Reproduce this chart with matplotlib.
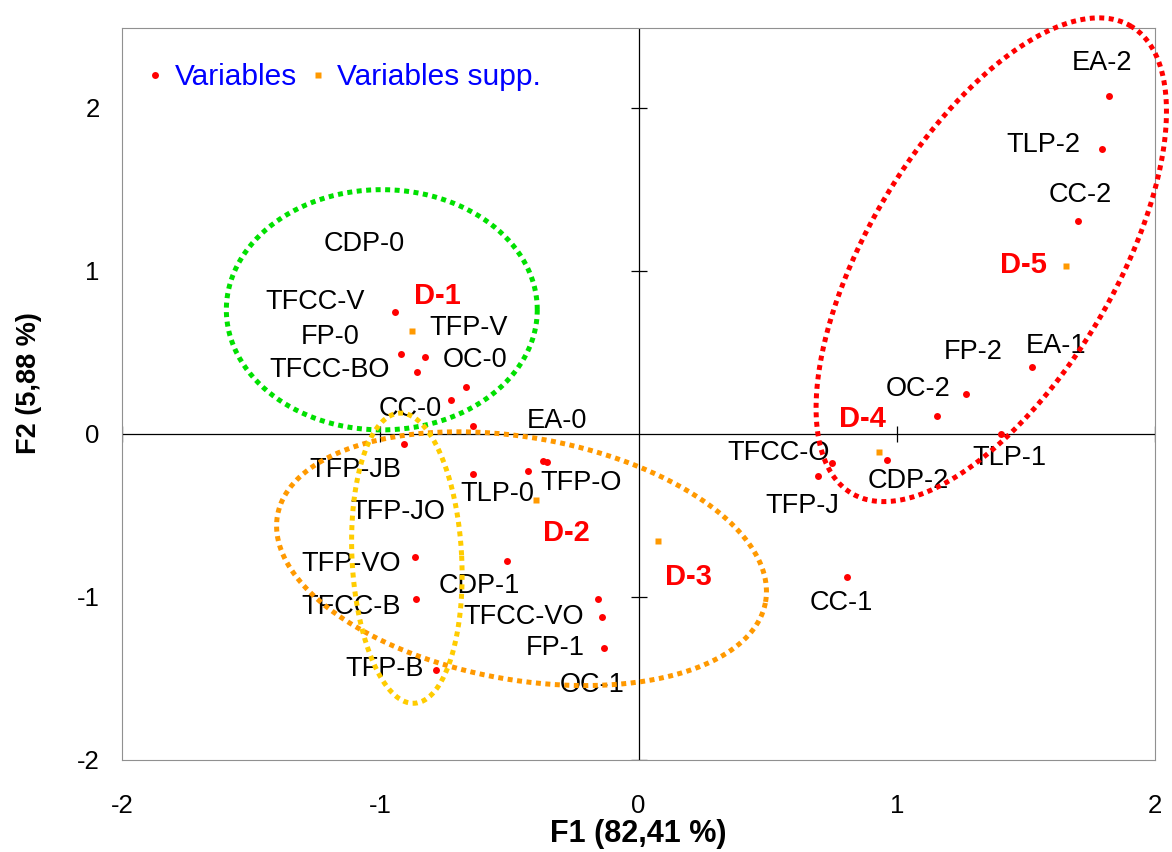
import numpy as np
import matplotlib
matplotlib.use('Agg')
from matplotlib import pyplot as plt
from matplotlib.lines import Line2D

plt.rcParams['font.family'] = ['Liberation Sans', 'DejaVu Sans']
plt.rcParams['axes.unicode_minus'] = False

# active variables (red dots) and where their labels sit
var_names = ['TFCC-V', 'FP-0', 'TFP-V', 'TFCC-BO', 'OC-0', 'CC-0', 'EA-0',
             'TFP-JB', 'TFP-JO', 'TLP-0', 'TFP-O', 'CDP-0', 'TFP-VO', 'CDP-1',
             'TFCC-B', 'TFCC-VO', 'OC-1', 'FP-1', 'TFP-B',
             'TFCC-O', 'TFP-J', 'CDP-2', 'OC-2', 'FP-2', 'EA-1', 'TLP-1',
             'CC-1', 'EA-2', 'TLP-2', 'CC-2']
var_x = [-0.944, -0.921, -0.828, -0.859, -0.669, -0.727, -0.642,
         -0.909, -0.642, -0.429, -0.371, -0.356, -0.867, -0.511,
         -0.863, -0.155, -0.143, -0.135, -0.785,
         0.750, 0.696, 0.963, 1.157, 1.269, 1.524, 1.404,
         0.809, 1.822, 1.795, 1.702]
var_y = [0.750, 0.492, 0.473, 0.381, 0.289, 0.209, 0.049,
         -0.061, -0.246, -0.227, -0.166, -0.172, -0.756, -0.780,
         -1.014, -1.014, -1.124, -1.315, -1.450,
         -0.178, -0.258, -0.160, 0.111, 0.246, 0.412, 0.0,
         -0.879, 2.071, 1.751, 1.309]
lab_x = [-1.253, -1.195, -0.658, -1.195, -0.634, -0.886, -0.317,
         -1.095, -0.932, -0.545, -0.224, -1.064, -1.114, -0.615,
         -1.114, -0.445, -0.178, -0.321, -0.983,
         0.542, 0.634, 1.044, 1.083, 1.296, 1.617, 1.435,
         0.785, 1.795, 1.567, 1.710]
lab_y = [0.811, 0.596, 0.651, 0.393, 0.455, 0.154, 0.080,
         -0.221, -0.479, -0.369, -0.301, 1.167, -0.799, -0.934,
         -1.063, -1.124, -1.542, -1.315, -1.444,
         -0.117, -0.442, -0.289, 0.276, 0.504, 0.541, -0.147,
         -1.038, 2.273, 1.770, 1.469]

# supplementary variables (orange squares)
sup_names = ['D-1', 'D-2', 'D-3', 'D-4', 'D-5']
sup_x = [-0.878, -0.395, 0.074, 0.932, 1.656]
sup_y = [0.633, -0.406, -0.657, -0.111, 1.032]
sup_lab_x = [-0.778, -0.279, 0.193, 0.867, 1.489]
sup_lab_y = [0.848, -0.608, -0.879, 0.092, 1.038]

# grouping ellipses: centre and two conjugate semi-diameters (data units)
ell_colors = ['#00e000', '#ff9900', '#ffcc00', '#ff0000']
ell_cx = [-0.994, -0.453, -0.897, 1.366]
ell_cy = [0.762, -0.765, -0.762, 1.069]
ell_u = [(0.602, 0.0), (0.945, -0.265), (0.212, 0.018), (0.542, 1.432)]
ell_v = [(0.0, 0.737), (0.0814, 0.732), (-0.029, 0.890), (-0.408, 0.389)]

fig = plt.figure(figsize=(11.72, 8.52), dpi=100)
ax = fig.add_axes([0.1041, 0.108, 0.8814, 0.859])
ax.set_xlim(-2, 2)
ax.set_ylim(-2, 2.49)

ax.axhline(0, color='black', lw=0.9, zorder=1)
ax.axvline(0, color='black', lw=0.9, zorder=1)
ticks = [-2, -1, 1, 2]
ax.plot(ticks, [0] * 4, ls='none', marker='|', ms=12, mew=0.9, color='black', zorder=1)
ax.plot([0] * 4, ticks, ls='none', marker='_', ms=12, mew=0.9, color='black', zorder=1)

ax.plot(var_x, var_y, ls='none', marker='o', ms=5, color='#ff0000', mec='none', zorder=3)
ax.plot(sup_x, sup_y, ls='none', marker='s', ms=5, color='#ff9900', mec='none', zorder=3)

for name, lx, ly in zip(var_names, lab_x, lab_y):
    ax.text(lx, ly, name, fontsize=19.5, ha='center', va='center', zorder=2)
for name, lx, ly in zip(sup_names, sup_lab_x, sup_lab_y):
    ax.text(lx, ly, name, fontsize=21, fontweight='bold', color='#ff0000',
            ha='center', va='center', zorder=2)

t = np.linspace(0, 2 * np.pi, 400)
for c, cx, cy, u, v in zip(ell_colors, ell_cx, ell_cy, ell_u, ell_v):
    ex = cx + u[0] * np.cos(t) + v[0] * np.sin(t)
    ey = cy + u[1] * np.cos(t) + v[1] * np.sin(t)
    ax.plot(ex, ey, color=c, lw=3.6, ls=(0, (1, 0.9)), clip_on=False, zorder=4)

for s in ax.spines.values():
    s.set_color('#909090')
ax.set_xticks([-2, -1, 0, 1, 2])
ax.set_yticks([-2, -1, 0, 1, 2])
ax.tick_params(length=0, labelsize=18.5)
ax.tick_params(axis='y', pad=16)
ax.tick_params(axis='x', pad=24.5)
ax.set_xlabel('F1 (82,41 %)', fontsize=22, fontweight='bold', labelpad=1)
ax.set_ylabel('F2 (5,88 %)', fontsize=19.5, fontweight='bold')
ax.yaxis.set_label_coords(-0.0774, 0.515)

handles = [Line2D([], [], ls='none', marker='o', ms=5, color='#ff0000', mec='none'),
           Line2D([], [], ls='none', marker='s', ms=5, color='#ff9900', mec='none')]
ax.legend(handles, ['Variables', 'Variables supp.'], loc='center left',
          bbox_to_anchor=(-0.0025, 0.933), ncol=2, frameon=False, fontsize=21.5,
          labelcolor='blue', handlelength=0.6, handletextpad=0.35, columnspacing=0.4)

fig.savefig('out.png', dpi=100)
